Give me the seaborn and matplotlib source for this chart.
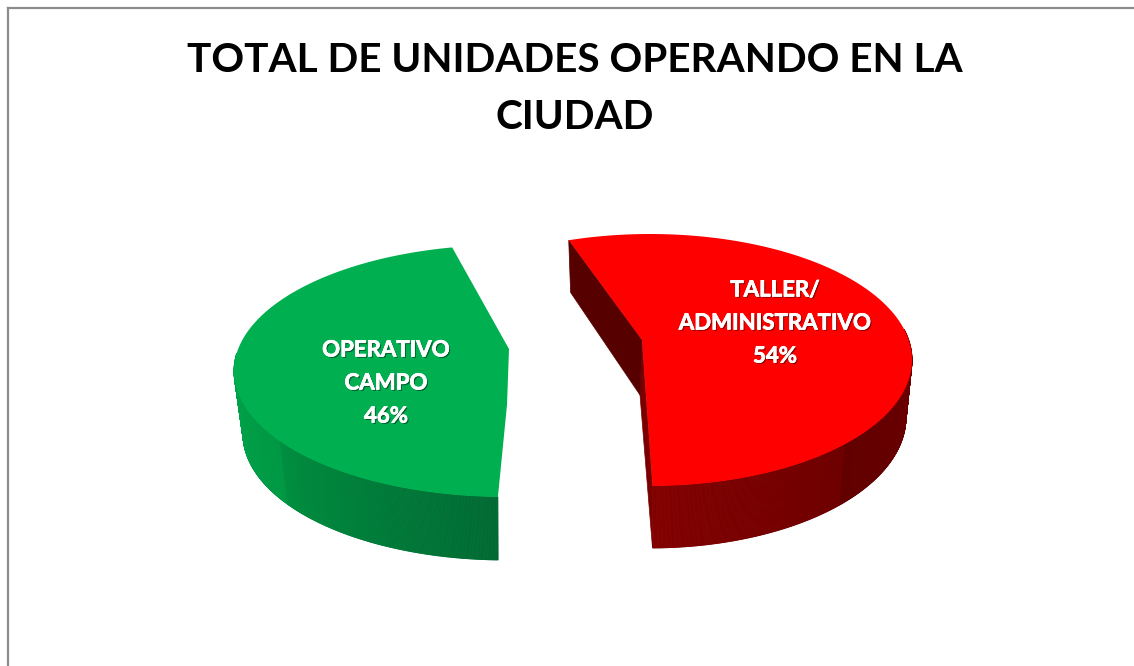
import matplotlib.pyplot as plt
import matplotlib.patheffects as pe
from matplotlib.collections import PolyCollection
import numpy as np
import seaborn as sns

title = 'TOTAL DE UNIDADES OPERANDO EN LA\nCIUDAD'
categories = ['TALLER/\nADMINISTRATIVO', 'OPERATIVO\nCAMPO']
percent = [54, 46]

W, H = 1134, 666
face_colors = ['#FF0000', '#00B050']
# rim colours: (start of rim, seam) and (seam, end of rim), going around the rim
rim_colors = [
    (['#820000', '#6e0000'], ['#620000', '#6c0000']),
    (['#00a54b', '#009844'], ['#008e40', '#006a32']),
]
# screen geometry of each exploded slice, in pixels of the picture
slices = [
    dict(top=(650, 360, 262, 126), bottom=(650, 417, 256, 131), apex=[(642, 340)], apex_low=(640, 395),
         stretch=1.016, shift=2.0, rim=(-89.4, 14), seam=-42, label=(775, 323)),
    dict(top=(505, 371, 271, 126), bottom=(505, 434, 262, 126), apex=[(507, 405), (509, 349)], apex_low=None,
         stretch=1.01, shift=-4.2, rim=(172, 268.5), seam=214, label=(386, 383)),
]


def ellipse_point(ell, phi):
    cx, cy, a, b = ell
    phi = np.radians(phi)
    return np.column_stack([cx + a * np.cos(phi), cy - b * np.sin(phi)])


def draw_rim(ax, s, colors):
    start, end = s['rim']
    seam = s['seam']
    n1 = max(int(abs(seam - start)) * 4, 2)
    n2 = max(int(abs(end - seam)) * 4, 2)
    phis = np.concatenate([np.linspace(start, seam, n1 + 1), np.linspace(seam, end, n2 + 1)[1:]])
    cols = sns.blend_palette(colors[0], n_colors=n1) + sns.blend_palette(colors[1], n_colors=n2)
    up = ellipse_point(s['top'], phis)
    low = ellipse_point(s['bottom'], phis)
    quads = [[up[i], up[i + 1], low[i + 1], low[i]] for i in range(len(phis) - 1)]
    ax.add_collection(PolyCollection(quads, facecolors=cols, edgecolors=cols, linewidths=0.6, zorder=2))


sns.set_theme(style='white')
plt.rcParams['font.family'] = ['Lato', 'DejaVu Sans']

fig = plt.figure(figsize=(W / 100, H / 100), dpi=100)
ax = fig.add_axes([8 / W, 0, 1 - 8 / W, 1 - 8 / H])

wedges, _ = ax.pie(percent, startangle=-90, frame=True)
ax.set_aspect('auto')
ax.set_xlim(8, W)
ax.set_ylim(H, 8)
ax.set_xticks([])
ax.set_yticks([])

for i, wedge in enumerate(wedges):
    wedge.set_visible(False)
    s = slices[i]
    phi1 = wedge.theta1 * s['stretch'] + s['shift']
    phi2 = wedge.theta2 * s['stretch'] + s['shift']
    draw_rim(ax, s, rim_colors[i])
    phis = np.linspace(phi1, phi2, 200)
    rim = ellipse_point(s['top'], phis)
    if s['apex_low'] is not None:
        # the two cut faces next to the centre of the pie
        front_low = ellipse_point(s['bottom'], [phi1])[0]
        back_low = ellipse_point(s['bottom'], [phi2])[0]
        ax.fill(*zip(rim[0], s['apex'][0], s['apex_low'], front_low), color='#7a0000', lw=0.5, zorder=3)
        ax.fill(*zip(rim[-1], s['apex'][0], s['apex_low'], back_low), color='#560000', lw=0.5, zorder=3)
    ax.fill(*np.vstack([s['apex'], rim]).T, color=face_colors[i], lw=0, zorder=4)
    ax.text(s['label'][0], s['label'][1], f'{categories[i]}\n{percent[i]}%', color='white',
            fontsize=16, fontweight='bold', ha='center', va='center', linespacing=1.71, zorder=5,
            path_effects=[pe.withSimplePatchShadow(offset=(1, -1), shadow_rgbFace='black', alpha=0.45),
                          pe.Stroke(linewidth=0.5, foreground='white'), pe.Normal()])

ax.text(575, 89, title, color='black', fontsize=29.2, fontweight='bold', ha='center', va='center', linespacing=1.64)

sns.despine(ax=ax, right=True, bottom=True, left=False, top=False)
for side in ['left', 'top']:
    ax.spines[side].set_color('#8c8c8c')
    ax.spines[side].set_linewidth(1.6)

fig.savefig('out.png', dpi=100)
